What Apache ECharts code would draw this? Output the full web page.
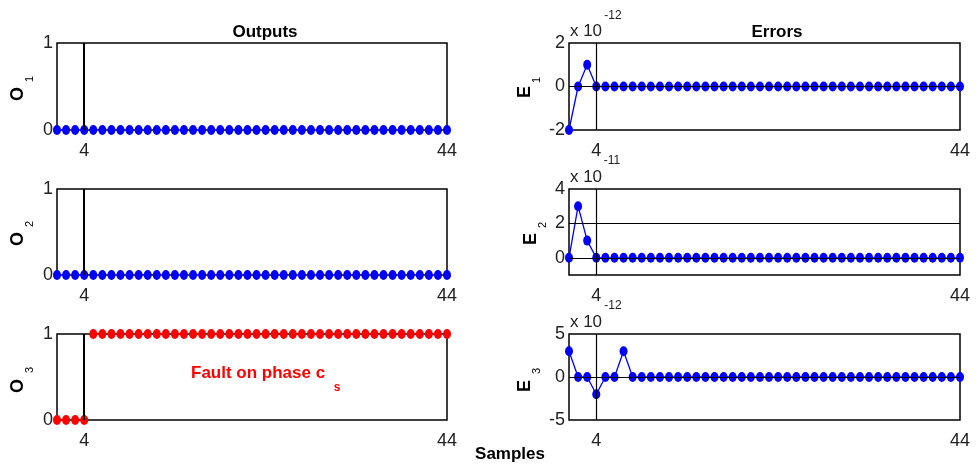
<!DOCTYPE html>
<html><head><meta charset="utf-8">
<script src="https://cdn.jsdelivr.net/npm/echarts@6/dist/echarts.min.js"></script>
<style>html,body{margin:0;padding:0;background:#fff}#c{width:980px;height:465px}</style>
</head><body><div id="c"></div>
<script>
// ---------- DATA ----------
var samples = [1,2,3,4,5,6,7,8,9,10,11,12,13,14,15,16,17,18,19,20,21,22,23,24,25,26,27,28,29,30,31,32,33,34,35,36,37,38,39,40,41,42,43,44];
var xTickLabels = [4, 44];
var faultSample = 4;
var o1 = [0,0,0,0,0,0,0,0,0,0,0,0,0,0,0,0,0,0,0,0,0,0,0,0,0,0,0,0,0,0,0,0,0,0,0,0,0,0,0,0,0,0,0,0];
var o2 = [0,0,0,0,0,0,0,0,0,0,0,0,0,0,0,0,0,0,0,0,0,0,0,0,0,0,0,0,0,0,0,0,0,0,0,0,0,0,0,0,0,0,0,0];
var o3 = [0,0,0,0,1,1,1,1,1,1,1,1,1,1,1,1,1,1,1,1,1,1,1,1,1,1,1,1,1,1,1,1,1,1,1,1,1,1,1,1,1,1,1,1];
// error mantissas (value = mantissa x 10^exp)
var e1 = [-2,0,1,0,0,0,0,0,0,0,0,0,0,0,0,0,0,0,0,0,0,0,0,0,0,0,0,0,0,0,0,0,0,0,0,0,0,0,0,0,0,0,0,0];
var e2 = [0,3,1,0,0,0,0,0,0,0,0,0,0,0,0,0,0,0,0,0,0,0,0,0,0,0,0,0,0,0,0,0,0,0,0,0,0,0,0,0,0,0,0,0];
var e3 = [3,0,0,-2,0,0,3,0,0,0,0,0,0,0,0,0,0,0,0,0,0,0,0,0,0,0,0,0,0,0,0,0,0,0,0,0,0,0,0,0,0,0,0,0];
var e1Exp = '-12', e2Exp = '-11', e3Exp = '-12';
var oTicks = [0, 1];
var e1Ticks = [-2, 0, 2];
var e2Ticks = [0, 2, 4];
var e3Ticks = [-5, 0, 5];
var titleOut = 'Outputs', titleErr = 'Errors', xName = 'Samples';
var faultText = 'Fault on phase c', faultSub = 's';

// ---------- CHART ----------
var FONT = '"Liberation Sans", Arial, Helvetica, sans-serif';
var ELL = 'path://M0,5A4,5,0,1,1,8,5A4,5,0,1,1,0,5Z';
function pairs(v){ return samples.map(function(s,i){ return [s, v[i]]; }); }

var rowsTop = [43, 189, 334], rowsH = [87, 86, 86];
var grids = [];
for (var r = 0; r < 3; r++) {
  grids.push({left:57, width:390, top:rowsTop[r], height:rowsH[r], show:true, borderColor:'#000', borderWidth:1.5, backgroundColor:'#fff'});
  grids.push({left:569, width:391, top:rowsTop[r], height:rowsH[r], show:true, borderColor:'#000', borderWidth:1.5, backgroundColor:'#fff'});
}
var yDefs = [
  {min:0,max:1,ticks:oTicks},{min:-2,max:2,ticks:e1Ticks},
  {min:0,max:1,ticks:oTicks},{min:-1,max:4,ticks:e2Ticks},
  {min:0,max:1,ticks:oTicks},{min:-5,max:5,ticks:e3Ticks}
];
var xAxes = [], yAxes = [];
for (var g = 0; g < 6; g++) {
  xAxes.push({gridIndex:g, type:'value', min:1, max:44,
    axisLine:{show:false}, axisTick:{show:false}, splitLine:{show:false},
    axisLabel:{customValues:xTickLabels, margin:12, fontSize:18, color:'#222', fontFamily:FONT}});
  yAxes.push({gridIndex:g, type:'value', min:yDefs[g].min, max:yDefs[g].max,
    axisLine:{show:false}, axisTick:{show:false}, splitLine:{show:false},
    axisLabel:{customValues:yDefs[g].ticks, margin:4, fontSize:18, color:'#222', fontFamily:FONT}});
}
function vLine(w){
  return {symbol:'none', silent:true, label:{show:false}, animation:false,
    lineStyle:{color:'#000', type:'solid', width:w}, data:[{xAxis:faultSample}]};
}
function errMark(levels){
  var d = [{xAxis:faultSample, lineStyle:{width:1.2}}];
  levels.forEach(function(l){ d.push({yAxis:l}); });
  return {symbol:'none', silent:true, label:{show:false}, animation:false,
    lineStyle:{color:'#000', type:'solid', width:1}, data:d};
}
function oSeries(g, v, color){
  return {type:'scatter', xAxisIndex:g, yAxisIndex:g, data:pairs(v), symbol:ELL, symbolSize:[8,10],
    itemStyle:{color:color, opacity:1}, clip:false, markLine:vLine(2), z:3};
}
function eSeries(g, v, levels){
  return {type:'line', xAxisIndex:g, yAxisIndex:g, data:pairs(v), symbol:ELL, symbolSize:[8,10],
    showAllSymbol:true, itemStyle:{color:'#0000ff', opacity:1}, lineStyle:{color:'#0000ff', width:1.3},
    clip:false, markLine:errMark(levels), z:3};
}
var series = [
  oSeries(0, o1, '#0000ff'), eSeries(1, e1, [0]),
  oSeries(2, o2, '#0000ff'), eSeries(3, e2, [0, 2]),
  oSeries(4, o3, '#ff0000'), eSeries(5, e3, [0])
];
function txt(x, y, s, size, bold, color, rot, align){
  return {type:'text', x:x, y:y, rotation:rot||0, z:10,
    style:{text:s, fontFamily:FONT, fontSize:size, fontWeight:bold?'bold':'normal',
      fill:color||'#000', align:align||'center', verticalAlign:'middle'}};
}
var R = Math.PI/2;
var graphics = [
  txt(265, 32, titleOut, 17, true),
  txt(777, 32, titleErr, 17, true),
  txt(510, 454, xName, 17, true),
  txt(18, 94, 'O', 18, true, '#000', R), txt(30, 79, '1', 11, false, '#000', R),
  txt(18, 239, 'O', 18, true, '#000', R), txt(30, 224, '2', 11, false, '#000', R),
  txt(18, 386, 'O', 18, true, '#000', R), txt(30, 370, '3', 11, false, '#000', R),
  txt(525, 92, 'E', 18, true, '#000', R), txt(537, 80, '1', 11, false, '#000', R),
  txt(531, 239, 'E', 18, true, '#000', R), txt(543, 225, '2', 11, false, '#000', R),
  txt(525, 386, 'E', 18, true, '#000', R), txt(537, 371, '3', 11, false, '#000', R),
  txt(586, 31, 'x 10', 17, false, '#222'), txt(613, 16, e1Exp, 12, false, '#222'),
  txt(586, 177, 'x 10', 17, false, '#222'), txt(612, 161, e2Exp, 12, false, '#222'),
  txt(586, 322, 'x 10', 17, false, '#222'), txt(613, 306, e3Exp, 12, false, '#222'),
  txt(191, 373, faultText, 17, true, '#ff0000', 0, 'left'),
  txt(337, 388, faultSub, 12, true, '#ff0000')
];
var chart = echarts.init(document.getElementById('c'), null, {renderer:'canvas'});
chart.setOption({animation:false, backgroundColor:'#fff', grid:grids, xAxis:xAxes, yAxis:yAxes, series:series, graphic:graphics});
</script></body></html>
